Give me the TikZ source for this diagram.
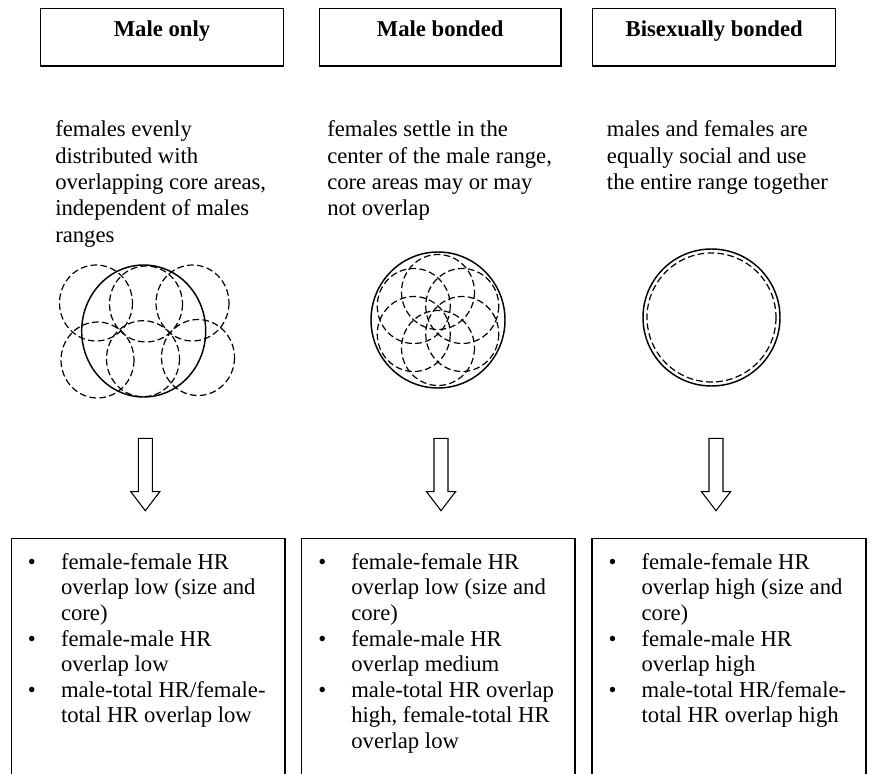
\documentclass[tikz,border=0pt]{standalone}
\usepackage{fontspec}
\setmainfont{Liberation Serif}
\usetikzlibrary{calc}
\tikzset{
  titletxt/.style={font=\fontsize{17}{19.2}\selectfont\bfseries, anchor=base, inner sep=0pt},
  bodytxt/.style={font=\fontsize{17}{19.2}\selectfont, anchor=base west, inner sep=0pt},
  desctxt/.style={bodytxt, font=\fontsize{17}{19.7}\selectfont},
  boxline/.style={line width=1pt},
  malerange/.style={line width=1.1pt},
  femrange/.style={line width=0.9pt, dash pattern=on 5pt off 2.5pt},
  blockarrow/.style={line width=0.8pt, line join=miter}
}
\begin{document}
\begin{tikzpicture}[x=0.75pt, y=-0.75pt]
	\useasboundingbox (0,0) rectangle (872,774);
	%\draw [help lines, step=50] (0,0) grid (872,774);
	% titles
	\draw [boxline] (40.7,8.3) rectangle (283.3,66);
	\draw [boxline] (319.4,8.3) rectangle (561,66);
	\draw [boxline] (592.7,8.3) rectangle (835.7,66);
	\node [titletxt] (male) at (162,37) {Male only};
	\node [titletxt] (malebond) at (440.2,37) {Male bonded};
	\node [titletxt] (bisex) at (714.2,37) {Bisexually bonded};
	% descriptions
	\node [desctxt] (descMale) at (55,137) {\begin{tabular}[t]{@{}l@{}}
		females evenly\\ distributed with\\ overlapping core areas,\\ independent of males\\ ranges\end{tabular}};
	\node [desctxt] (descBond) at (327,137) {\begin{tabular}[t]{@{}l@{}}
		females settle in the\\ center of the male range,\\ core areas may or may\\ not overlap\end{tabular}};
	\node [desctxt] (descBisex) at (606.7,137) {\begin{tabular}[t]{@{}l@{}}
		males and females are\\ equally social and use\\ the entire range together\end{tabular}};
	% home ranges
	\draw [malerange] (143.7,331) ellipse [x radius=62, y radius=66];
	\foreach \cx/\cy in {96/303, 146/304, 192.5/303, 97.5/360, 143/358.7, 198/357.5}
		\draw [femrange] (\cx,\cy) ellipse [x radius=36.5, y radius=38];
	\draw [malerange] (438,320) ellipse [x radius=67, y radius=68];
	\foreach \a in {30,90,...,330}
		\draw [femrange] ($(438,320)+(\a:28)$) ellipse [x radius=36.5, y radius=37.5];
	\draw [malerange] (711.5,317.5) circle [radius=68.5];
	\draw [femrange] (711.5,317.5) circle [radius=64.5];
	% arrows
	\foreach \ax in {145.3,441,716}
		\draw [blockarrow] (\ax-7,438.3) -- (\ax-7,491.7) -- (\ax-14.5,491.7) -- (\ax,510.7)
			-- (\ax+14.5,491.7) -- (\ax+7,491.7) -- (\ax+7,438.3) -- cycle;
	% results
	\draw [boxline] (11.7,790) |- (285,538.3) -- (285,790);
	\draw [boxline] (301.7,790) |- (575,538.3) -- (575,790);
	\draw [boxline] (592,790) |- (866,538.3) -- (866,790);
	\node [bodytxt] (resMale) at (27.7,569.3) {\begin{tabular}[t]{@{}p{24.8pt}@{}l@{}}
		\textbullet & female-female HR\\ & overlap low (size and\\ & core)\\
		\textbullet & female-male HR\\ & overlap low\\
		\textbullet & male-total HR/female-\\ & total HR overlap low\end{tabular}};
	\node [bodytxt] (resBond) at (318,569.3) {\begin{tabular}[t]{@{}p{24.8pt}@{}l@{}}
		\textbullet & female-female HR\\ & overlap low (size and\\ & core)\\
		\textbullet & female-male HR\\ & overlap medium\\
		\textbullet & male-total HR overlap\\ & high, female-total HR\\ & overlap low\end{tabular}};
	\node [bodytxt] (resBisex) at (608.3,569.3) {\begin{tabular}[t]{@{}p{24.8pt}@{}l@{}}
		\textbullet & female-female HR\\ & overlap high (size and\\ & core)\\
		\textbullet & female-male HR\\ & overlap high\\
		\textbullet & male-total HR/female-\\ & total HR overlap high\end{tabular}};
\end{tikzpicture}
\end{document}
